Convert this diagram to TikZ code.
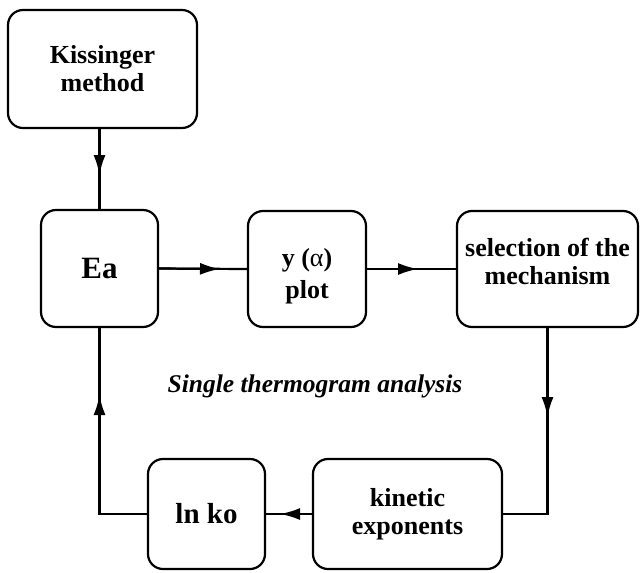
\documentclass[tikz,border=0pt]{standalone}
\usepackage{fontspec}
\setmainfont{Liberation Serif}
\usetikzlibrary{arrows.meta}
\newcommand{\boxlines}[4]{\raisebox{#1}[0pt][0pt]{\begin{tabular}[t]{@{}c@{}}#2\\[#4]#3\end{tabular}}}
\begin{document}
\begin{tikzpicture}[x=1pt,y=-1pt,
  box/.style={draw, line width=2.2pt, rounded corners=15pt, align=center,
    font=\fontsize{26}{28}\selectfont\bfseries, inner sep=0pt},
  conn/.style={line width=2.2pt},
  tip/.style={line width=2.2pt, -{Latex[length=20pt,width=12pt]}},
  caption/.style={font=\fontsize{25.5}{28}\selectfont\bfseries\itshape, anchor=base}]
\useasboundingbox (0,0) rectangle (640,573);
\node[box, minimum width=189pt, minimum height=118pt] (kiss) at (102.5,69) {Kissinger\\method};
\node[box, minimum width=117pt, minimum height=117pt, font=\fontsize{31}{33}\selectfont\bfseries] (ea) at (99.5,268.5) {Ea};
\node[box, minimum width=118pt, minimum height=116pt] (yal) at (307,269) {\boxlines{3pt}{y ({\mdseries α})}{plot}{4pt}};
\node[box, minimum width=181pt, minimum height=116pt] (sel) at (547.5,269) {\boxlines{13pt}{selection of the}{mechanism}{0pt}};
\node[box, minimum width=189pt, minimum height=110pt] (kin) at (407.5,514) {kinetic\\exponents};
\node[box, minimum width=117pt, minimum height=110pt, font=\fontsize{29}{31}\selectfont\bfseries] (lnko) at (206.5,514) {ln ko};
\node[caption] (cap) at (315,392) {Single thermogram analysis};
% connectors: full lines, then arrow tips overlaid
\coordinate (kd) at (99.5,175);
\coordinate (r1) at (220,269);
\coordinate (r2) at (418,269);
\coordinate (dn) at (547.5,417);
\coordinate (lt) at (280,514);
\coordinate (up) at (99.5,395);
\draw[conn] (kiss.south -| kd) -- (ea.north);
\draw[tip] (kiss.south -| kd) -- (kd);
\draw[conn] (ea.east) -- (yal.west);
\draw[tip] (ea.east) -- (r1);
\draw[conn] (yal.east) -- (sel.west);
\draw[tip] (yal.east) -- (r2);
\draw[conn] (sel.south) |- (kin.east);
\draw[tip] (sel.south) -- (dn);
\draw[conn] (kin.west) -- (lnko.east);
\draw[tip] (kin.west) -- (lt);
\draw[conn] (lnko.west) -| (ea.south);
\draw[tip] (ea.south |- lnko.west) -- (up);
\end{tikzpicture}
\end{document}
